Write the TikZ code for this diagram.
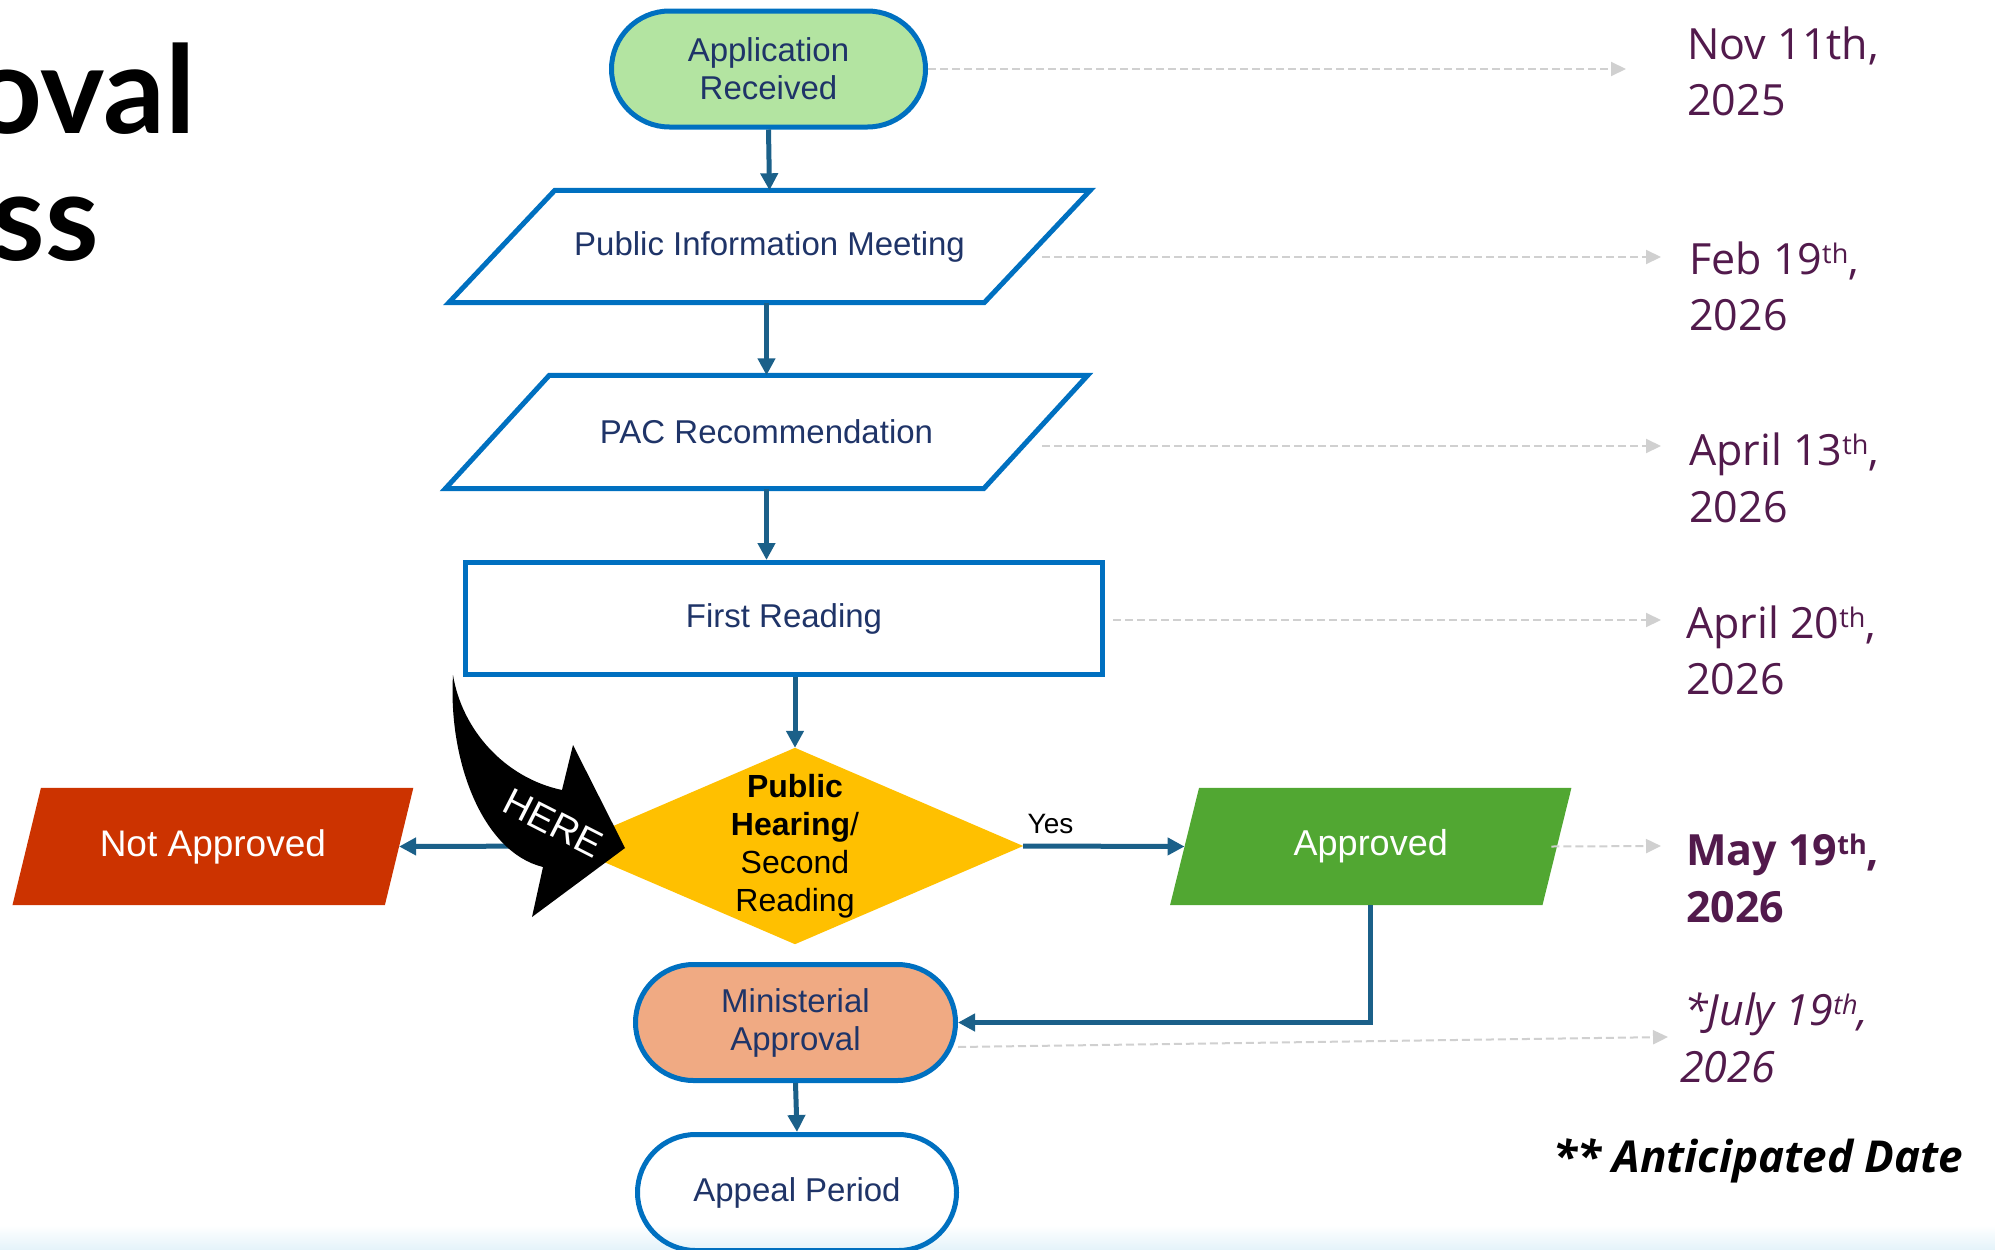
\documentclass[tikz,border=0pt]{standalone}
\usepackage{fontspec}
\setmainfont{Liberation Sans}
\newfontfamily\datefont{Open Sans}
\newfontfamily\titlefont{Lato}
\usetikzlibrary{arrows.meta,calc,backgrounds}
\definecolor{outlineblue}{HTML}{0070C0}
\definecolor{connblue}{HTML}{1B6089}
\definecolor{navytext}{HTML}{1F3468}
\definecolor{appgreen}{HTML}{B3E4A1}
\definecolor{decgold}{HTML}{FFC000}
\definecolor{redorange}{HTML}{CC3300}
\definecolor{okgreen}{HTML}{51A732}
\definecolor{salmonfill}{HTML}{F0AA83}
\definecolor{datepurple}{HTML}{521A4C}
\definecolor{dashgray}{HTML}{D0D0D0}
\definecolor{bandblue}{HTML}{E4F3FA}
\newcommand\mysup[1]{\raisebox{11pt}{\fontsize{27}{27}\selectfont #1}}
\begin{document}
\begin{tikzpicture}[x=1pt,y=-1pt,
  nodetext/.style={font=\fontsize{33}{38}\selectfont, text=navytext, align=center, inner sep=0pt},
  stadium/.style={nodetext, draw=outlineblue, line width=5pt, minimum height=116pt, rounded corners=58pt},
  outlinepath/.style={draw=outlineblue, line width=5pt},
  flow/.style={draw=connblue, line width=5pt, -{Triangle[length=17pt,width=17pt]}},
  dateline/.style={draw=dashgray, line width=2pt, dash pattern=on 8pt off 4pt, -{Triangle[length=15pt,width=14pt]}},
  datetext/.style={anchor=base west, inner sep=0pt, text=datepurple, font=\datefont\fontsize{43}{50}\selectfont},
  titletext/.style={anchor=base east, inner sep=0pt, font=\titlefont\bfseries\fontsize{122}{122}\selectfont},
]
\useasboundingbox (0,0) rectangle (1995,1250);

% title (cut at the left edge)
\begin{scope}
\clip (0,0) rectangle (1995,1250);
\node[titletext] (title1) at (196,133) {oval};
\node[titletext] (title2) at (99,260) {ss};
\end{scope}

% flow nodes
\node[stadium, fill=appgreen, minimum width=314pt] (app) at (768.5,69) {Application\\Received};
\node[nodetext, minimum width=641pt, minimum height=112pt] (pim) at (769.5,246.5) {Public Information Meeting};
\draw[outlinepath] ($(pim.north west)+(106,0)$) -- (pim.north east) -- ($(pim.south east)+(-106,0)$) -- (pim.south west) -- cycle;
\node[nodetext, minimum width=642pt, minimum height=113pt] (pac) at (766.5,432) {PAC Recommendation};
\draw[outlinepath] ($(pac.north west)+(104,0)$) -- (pac.north east) -- ($(pac.south east)+(-104,0)$) -- (pac.south west) -- cycle;
\node[nodetext, draw=outlineblue, line width=5pt, minimum width=637pt, minimum height=112pt] (first) at (784,618.5) {First Reading};

\node[inner sep=0pt, minimum width=456pt, minimum height=196pt] (dia) at (795,846) {};
\node[inner sep=0pt, align=center, font=\fontsize{32}{38}\selectfont] (diatext) at (795,846) {\textbf{Public}\\\textbf{Hearing}/\\Second\\Reading};
\node[inner sep=0pt, minimum width=400.5pt, minimum height=117pt, text=white, font=\fontsize{37}{40}\selectfont] (notapp) at (212.9,846.5) {Not Approved};
\node[inner sep=0pt, minimum width=401pt, minimum height=117pt, text=white, font=\fontsize{36}{40}\selectfont] (appr) at (1370.75,846.5) {Approved};

\node[stadium, fill=salmonfill, minimum width=320pt] (min) at (795.5,1022.5) {Ministerial\\Approval};
\node[stadium, minimum width=319pt] (appeal) at (797,1192.5) {Appeal Period};

\begin{scope}[on background layer]
\shade[top color=white, bottom color=bandblue] (0,1225) rectangle (1995,1250);
\fill[decgold] (dia.north) -- (dia.east) -- (dia.south) -- (dia.west) -- cycle;
\fill[redorange] ($(notapp.north west)+(28.5,0)$) -- (notapp.north east) -- ($(notapp.south east)+(-28.5,0)$) -- (notapp.south west) -- cycle;
\fill[okgreen] ($(appr.north west)+(29,0)$) -- (appr.north east) -- ($(appr.south east)+(-29,0)$) -- (appr.south west) -- cycle;
\end{scope}

% connectors
\draw[flow] (app.south) -- (pim.north);
\draw[flow] (pac.north |- pim.south) -- (pac.north);
\draw[flow] (pac.south) -- (pac.south |- first.north);
\draw[flow] (first.south -| dia.north) -- (dia.north);
\draw[flow] (dia.west) -- ($(notapp.east)+(-14.25,0)$);
\draw[flow] (dia.east) -- node[pos=0, anchor=base west, inner sep=0pt, xshift=2pt, yshift=13pt, font=\fontsize{28}{30}\selectfont] (yes) {Yes} ($(appr.west)+(14.5,0)$);
\draw[flow] (appr.south) |- (min.east);
\draw[flow] (min.south) -- (appeal.north);

% dashed lines to dates
\coordinate (e1) at (1626,69);
\coordinate (e2) at (1661,257);
\coordinate (e3) at (1661,446);
\coordinate (e4) at (1661,620);
\coordinate (e5) at (1661,846);
\coordinate (e6) at (1668,1037);
\draw[dateline] (app.east) -- (e1);
\draw[dateline] ($(pim.center)+(272.5,10.5)$) -- (e2);
\draw[dateline] ($(pac.center)+(275.5,14)$) -- (e3);
\draw[dateline] ($(first.east)+(8,1.5)$) -- (e4);
\draw[dateline] ($(appr.east)+(-20,0)$) -- (e5);
\draw[dateline] ($(min.east)+(0,24.5)$) -- (e6);

% HERE arrow
\fill[black] (453,675) .. controls (462,730) and (505,778) .. (562,790) -- (573,745) -- (625,848) -- (532,917) -- (543,867) .. controls (482,852) and (448,760) .. (453,675) -- cycle;
\node[rotate=-27, text=white, inner sep=0pt, font=\fontsize{38}{38}\selectfont] (here) at (553,823) {HERE};

% dates
\node[datetext] (d1a) at (1687,59) {Nov 11th,};
\node[datetext] (d1b) at (1687,115) {2025};
\node[datetext] (d2a) at (1689,274) {Feb 19\mysup{th},};
\node[datetext] (d2b) at (1689,330) {2026};
\node[datetext] (d3a) at (1689,465) {April 13\mysup{th},};
\node[datetext] (d3b) at (1689,522) {2026};
\node[datetext] (d4a) at (1686,638) {April 20\mysup{th},};
\node[datetext] (d4b) at (1686,694) {2026};
\node[datetext, font=\datefont\bfseries\fontsize{43}{50}\selectfont] (d5a) at (1686,865) {May 19\mysup{th},};
\node[datetext, font=\datefont\bfseries\fontsize{43}{50}\selectfont] (d5b) at (1686,922) {2026};
\node[datetext, font=\datefont\itshape\fontsize{43}{50}\selectfont] (d6a) at (1684,1025) {*July 19\mysup{th},};
\node[datetext, font=\datefont\itshape\fontsize{43}{50}\selectfont] (d6b) at (1680,1082) {2026};
\node[anchor=base west, inner sep=0pt, font=\datefont\bfseries\itshape\fontsize{44}{50}\selectfont] (note) at (1553,1172) {** Anticipated Date};
\end{tikzpicture}
\end{document}
